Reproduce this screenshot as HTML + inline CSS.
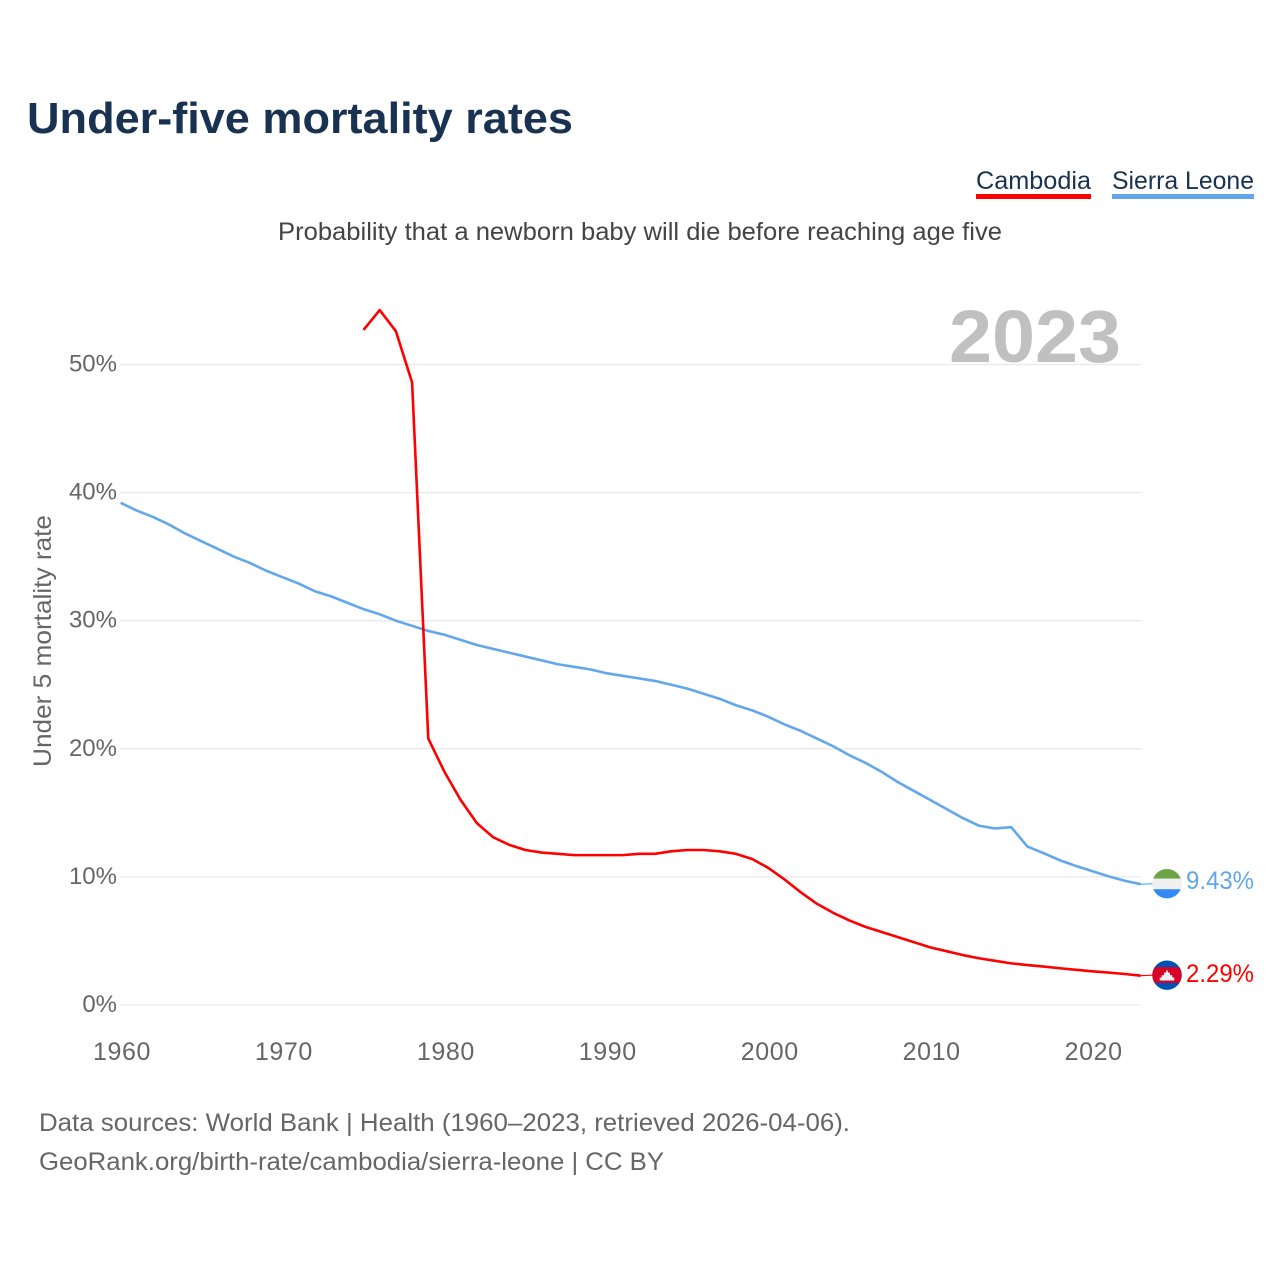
<!DOCTYPE html>
<html lang="en">
<head>
<meta charset="utf-8">
<title>Under-five mortality rates</title>
<style>
html,body{margin:0;padding:0;background:#fff;}
svg{display:block;font-family:"Liberation Sans",sans-serif;}
</style>
</head>
<body>
<svg id="chart" xmlns="http://www.w3.org/2000/svg" width="1280" height="1280" viewBox="0 0 1280 1280">
  <rect width="1280" height="1280" fill="#ffffff"/>
  <text x="27" y="133" font-size="44" font-weight="700" fill="#1a3252" textLength="546" lengthAdjust="spacingAndGlyphs">Under-five mortality rates</text>
  <text x="278" y="240" font-size="25" fill="#444444" textLength="724" lengthAdjust="spacingAndGlyphs">Probability that a newborn baby will die before reaching age five</text>

  <g>
    <text x="976" y="189" font-size="25" fill="#1a3252" textLength="115" lengthAdjust="spacingAndGlyphs">Cambodia</text>
    <rect x="976" y="194" width="115" height="5" fill="#ff0000"/>
  </g>
  <g>
    <text x="1112" y="189" font-size="25" fill="#1a3252" textLength="142" lengthAdjust="spacingAndGlyphs">Sierra Leone</text>
    <rect x="1112" y="194" width="142" height="5" fill="#62a7ec"/>
  </g>

  <g id="grid"></g>
  <text x="1121" y="362" text-anchor="end" font-size="74" font-weight="700" fill="#c0c0c0" textLength="172" lengthAdjust="spacingAndGlyphs">2023</text>
  <g id="yticks"></g>
  <g id="xticks"></g>
  <text transform="translate(51 641) rotate(-90)" text-anchor="middle" font-size="25" fill="#666666" textLength="252" lengthAdjust="spacingAndGlyphs">Under 5 mortality rate</text>

  <path id="line-sierra" fill="none" stroke="#62a7ec" stroke-width="2.6" stroke-linejoin="round"/>
  <path id="line-cambodia" fill="none" stroke="#ff0000" stroke-width="2.6" stroke-linejoin="round"/>
  <path id="link-sierra" fill="none" stroke="#62a7ec" stroke-width="1.2"/>
  <path id="link-cambodia" fill="none" stroke="#ff0000" stroke-width="1.2"/>

  <defs>
    <clipPath id="clip-flag-sl"><circle cx="0" cy="0" r="14.7"/></clipPath>
    <clipPath id="clip-flag-kh"><circle cx="0" cy="0" r="14.7"/></clipPath>
  </defs>
  <g id="flag-sierra">
    <g clip-path="url(#clip-flag-sl)">
      <rect x="-15" y="-15" width="30" height="10" fill="#6da544"/>
      <rect x="-15" y="-5" width="30" height="10.5" fill="#f0f0f0"/>
      <rect x="-15" y="5.5" width="30" height="10" fill="#338af3"/>
    </g>
  </g>
  <g id="flag-cambodia">
    <g clip-path="url(#clip-flag-kh)">
      <rect x="-15" y="-15" width="30" height="30" fill="#0052b4"/>
      <rect x="-15" y="-8" width="30" height="15.7" fill="#d80027"/>
      <polygon points="-7.3,5.3 -7.3,2.5 -5.3,2.5 -5.3,0 -3,0 -3,-2.5 -1.2,-2.5 0,-5.8 1.2,-2.5 3,-2.5 3,0 5.3,0 5.3,2.5 7.3,2.5 7.3,5.3" fill="#f0f0f0"/>
    </g>
  </g>
  <text id="value-sierra" x="1186" font-size="25" fill="#62a7ec" textLength="68" lengthAdjust="spacingAndGlyphs"></text>
  <text id="value-cambodia" x="1186" font-size="25" fill="#ff0000" textLength="68" lengthAdjust="spacingAndGlyphs"></text>

  <text x="39" y="1131" font-size="25" fill="#666666" textLength="811" lengthAdjust="spacingAndGlyphs">Data sources: World Bank | Health (1960–2023, retrieved 2026-04-06).</text>
  <text x="39" y="1170" font-size="25" fill="#666666" textLength="625" lengthAdjust="spacingAndGlyphs">GeoRank.org/birth-rate/cambodia/sierra-leone | CC BY</text>
</svg>
<script>
const yearStart = 1960;
const yearEnd = 2023;
const cambodiaStartYear = 1975;
const sierraStartYear = 1960;
const xTickLabels = [1960, 1970, 1980, 1990, 2000, 2010, 2020];
const yTickValues = [0, 10, 20, 30, 40, 50];
const cambodiaValues = [52.7, 54.25, 52.6, 48.6, 20.8, 18.2, 16.0, 14.2, 13.1, 12.5, 12.1, 11.9, 11.8, 11.7, 11.7, 11.7, 11.7, 11.8, 11.8, 12.0, 12.1, 12.1, 12.0, 11.8, 11.4, 10.7, 9.8, 8.8, 7.9, 7.2, 6.6, 6.1, 5.7, 5.3, 4.9, 4.5, 4.2, 3.9, 3.65, 3.45, 3.25, 3.12, 3.0, 2.87, 2.75, 2.63, 2.53, 2.42, 2.29];
const sierraValues = [39.2, 38.6, 38.1, 37.5, 36.8, 36.2, 35.6, 35.0, 34.5, 33.9, 33.4, 32.9, 32.3, 31.9, 31.4, 30.9, 30.5, 30.0, 29.6, 29.2, 28.9, 28.5, 28.1, 27.8, 27.5, 27.2, 26.9, 26.6, 26.4, 26.2, 25.9, 25.7, 25.5, 25.3, 25.0, 24.7, 24.3, 23.9, 23.4, 23.0, 22.5, 21.9, 21.4, 20.8, 20.2, 19.5, 18.9, 18.2, 17.4, 16.7, 16.0, 15.3, 14.6, 14.0, 13.78, 13.88, 12.37, 11.85, 11.3, 10.85, 10.45, 10.05, 9.7, 9.43];

const NS = 'http://www.w3.org/2000/svg';
function xScale(year) { return 120.6 + (year - yearStart) * (1020.2 / (yearEnd - yearStart)); }
function yScale(value) { return 1005 - value * 12.81; }
function pathFor(values, startYear) {
  return values.map(function (v, i) {
    return (i ? 'L' : 'M') + xScale(startYear + i).toFixed(2) + ' ' + yScale(v).toFixed(2);
  }).join(' ');
}

const gridGroup = document.getElementById('grid');
const yGroup = document.getElementById('yticks');
yTickValues.forEach(function (v) {
  const line = document.createElementNS(NS, 'line');
  
  
  line.setAttribute('x1', 120);
  line.setAttribute('x2', 1141);
  line.setAttribute('y1', yScale(v));
  line.setAttribute('y2', yScale(v));
  line.setAttribute('stroke', '#e9e9e9');
  line.setAttribute('stroke-width', '1.3');
  gridGroup.appendChild(line);

  const label = document.createElementNS(NS, 'text');
  
  
  label.setAttribute('x', 117);
  label.setAttribute('y', yScale(v) + 7);
  label.setAttribute('text-anchor', 'end');
  label.setAttribute('font-size', '24');
  label.setAttribute('fill', '#666666');
  label.textContent = v + '%';
  yGroup.appendChild(label);
});

const xGroup = document.getElementById('xticks');
xTickLabels.forEach(function (year) {
  const label = document.createElementNS(NS, 'text');
  
  
  label.setAttribute('x', xScale(year) + 1.4);
  label.setAttribute('y', 1060);
  label.setAttribute('text-anchor', 'middle');
  label.setAttribute('font-size', '25');
  label.setAttribute('letter-spacing', '0.6');
  label.setAttribute('fill', '#666666');
  label.textContent = String(year);
  xGroup.appendChild(label);
});

document.getElementById('line-cambodia').setAttribute('d', pathFor(cambodiaValues, cambodiaStartYear));
document.getElementById('line-sierra').setAttribute('d', pathFor(sierraValues, sierraStartYear));

const lastCambodia = cambodiaValues[cambodiaValues.length - 1];
const lastSierra = sierraValues[sierraValues.length - 1];
const flagX = 1167;
const yC = yScale(lastCambodia);
const yS = yScale(lastSierra);
document.getElementById('link-cambodia').setAttribute('d', 'M' + xScale(yearEnd) + ' ' + yC + ' L' + (flagX - 14) + ' ' + (yC - 0.5));
document.getElementById('link-sierra').setAttribute('d', 'M' + xScale(yearEnd) + ' ' + yS + ' L' + (flagX - 14) + ' ' + (yS - 0.5));
document.getElementById('flag-cambodia').setAttribute('transform', 'translate(' + flagX + ' ' + (yC - 0.5) + ')');
document.getElementById('flag-sierra').setAttribute('transform', 'translate(' + flagX + ' ' + (yS - 0.5) + ')');
const vC = document.getElementById('value-cambodia');
vC.setAttribute('y', yC + 6.5);
vC.textContent = lastCambodia.toFixed(2) + '%';
const vS = document.getElementById('value-sierra');
vS.setAttribute('y', yS + 4.7);
vS.textContent = lastSierra.toFixed(2) + '%';
</script>
</body>
</html>
